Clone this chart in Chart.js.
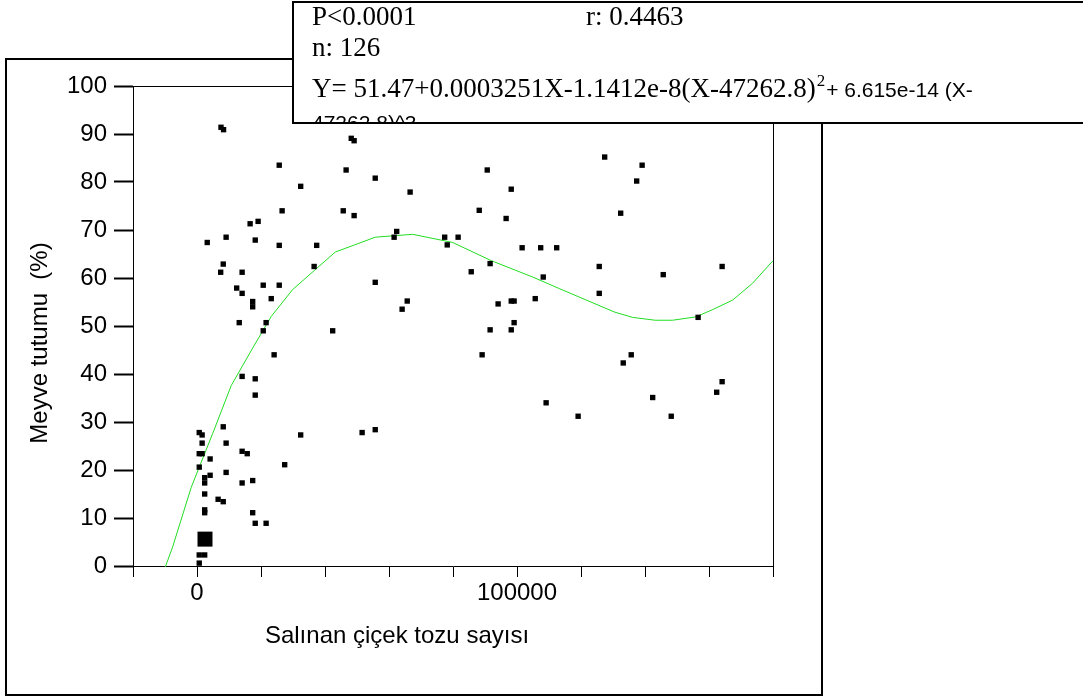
<!DOCTYPE html>
<html>
<head>
<meta charset="utf-8">
<script src="https://cdn.jsdelivr.net/npm/chart.js@4/dist/chart.umd.min.js"></script>
<style>
html,body{margin:0;padding:0;background:#fff;}
canvas{display:block;}
</style>
</head>
<body>
<canvas id="c" width="1083" height="699"></canvas>
<script>
// ---- data ----
const pollenCount = [
  7500, 8300, 25700, 46600, 32400, 26600, 45700, 19100, 16600, 9100,
  3200, 18200, 25700, 37400, 8200, 7400, 14100, 36600, 12400, 14100,
  20700, 25700, 17400, 17400, 23200, 13200, 21600, 42400, 20700, 24100,
  14100, 18200, 18200, 8200, 32400, 700, 1600, 1600, 9100, 700,
  1600, 14100, 15700, 4100, 27400, 700, 4100, 2400, 2400, 9100,
  14100, 17400, 2400, 6600, 8200, 2400, 2400, 17400, 18200, 21600,
  700, 2400, 700,
  48200, 49100, 55700, 66600, 90700, 98200, 49100, 88200, 96600, 62400,
  61600, 77400, 81600, 78200, 101600, 107400, 112400, 91600, 85700, 108200,
  55700, 65700, 64100, 98200, 99100, 94100, 105700, 99100, 91600, 98200,
  89100, 109100, 51600, 55700,
  127400, 139100, 137400, 132400, 125700, 145700, 164100, 125700, 156600,
  135700, 133200, 164100, 162400, 142400, 119100, 148200
];
const fruitSet = [
  91.4, 90.9, 83.5, 82.5, 79.1, 74.0, 74.0, 71.8, 71.3, 68.5,
  67.4, 67.9, 66.8, 66.8, 62.9, 61.2, 61.2, 62.4, 57.9, 56.8,
  58.5, 58.5, 55.1, 54.0, 55.7, 50.7, 50.7, 49.0, 49.0, 44.0,
  39.5, 39.0, 35.6, 29.0, 27.3, 27.8, 27.3, 25.6, 25.6, 23.4,
  23.4, 23.9, 23.4, 22.3, 21.1, 20.6, 18.9, 18.4, 17.3, 19.5,
  17.3, 17.8, 15.0, 13.9, 13.4, 11.7, 11.1, 11.1, 8.9, 8.9,
  2.3, 2.3, 0.6,
  89.1, 88.6, 80.8, 77.9, 82.5, 78.5, 73.0, 74.1, 72.4, 69.7,
  68.5, 68.5, 68.5, 66.9, 66.3, 66.3, 66.3, 63.0, 61.3, 60.2,
  59.1, 55.2, 53.5, 55.2, 55.2, 54.6, 55.7, 50.7, 49.2, 49.2,
  44.0, 34.0, 27.8, 28.4,
  85.2, 83.5, 80.2, 73.5, 62.4, 60.7, 62.4, 56.8, 51.8,
  44.0, 42.3, 38.4, 36.2, 35.1, 31.2, 31.2
];
// overlapping cluster drawn as one large marker
const clusterX = [2500];
const clusterY = [5.6];

// fitted curve
const fitX = [-9900, -7600, -1800, 4900, 10700, 17400, 23200, 29900, 43200, 55700,
  67400, 79900, 92000, 104900, 113200, 130500, 136100, 143200, 148600, 155900,
  161100, 167400, 173600, 180000];
const fitY = [-0.2, 4.0, 16.4, 27.6, 37.6, 45.4, 52.0, 57.6, 65.4, 68.5,
  69.1, 67.4, 63.6, 60.2, 57.8, 52.9, 51.8, 51.2, 51.2, 51.9,
  53.4, 55.4, 58.9, 63.6];

const xLabeledTicks = [0, 100000];
const xTitle = 'Salınan çiçek tozu sayısı';
const yTitle = 'Meyve tutumu  (%)';
const statP = 'P<0.0001';
const statR = 'r: 0.4463';
const statN = 'n: 126';
const eqMain = 'Y= 51.47+0.0003251X-1.1412e-8(X-47262.8)';
const eqSup = '2';
const eqTail = '+ 6.615e-14 (X-';
const eqCut = '47262.8)^3';

const SANS = '"Liberation Sans", Arial, sans-serif';
const SERIF = '"Liberation Serif", "Times New Roman", serif';

const scatterPts = pollenCount.map((x, i) => ({x, y: fruitSet[i]}));
const clusterPts = clusterX.map((x, i) => ({x, y: clusterY[i]}));
const fitPts = fitX.map((x, i) => ({x, y: fitY[i]}));

const decor = {
  id: 'decor',
  afterDraw(chart) {
    const ctx = chart.ctx, ca = chart.chartArea;
    ctx.save();
    ctx.strokeStyle = '#000';
    ctx.lineWidth = 1;
    ctx.beginPath();
    ctx.moveTo(ca.left, Math.round(ca.top) + 0.5);
    ctx.lineTo(Math.round(ca.right) + 0.5, Math.round(ca.top) + 0.5);
    ctx.lineTo(Math.round(ca.right) + 0.5, ca.bottom);
    ctx.stroke();
    // outer frame
    ctx.lineWidth = 2;
    ctx.strokeRect(6, 59, 816, 636);
    // axis titles
    ctx.fillStyle = '#000';
    ctx.font = '24px ' + SANS;
    ctx.textAlign = 'center';
    ctx.textBaseline = 'middle';
    ctx.fillText(xTitle, 397, 636);
    ctx.save();
    ctx.translate(40, 343);
    ctx.rotate(-Math.PI / 2);
    ctx.fillText(yTitle, 0, 0);
    ctx.restore();
    // statistics box
    ctx.fillStyle = '#fff';
    ctx.fillRect(293, 2, 800, 121);
    ctx.lineWidth = 2;
    ctx.strokeRect(293, 2, 800, 121);
    ctx.beginPath();
    ctx.rect(294, 3, 800, 119);
    ctx.clip();
    ctx.fillStyle = '#000';
    ctx.textAlign = 'left';
    ctx.textBaseline = 'alphabetic';
    ctx.font = '27px ' + SERIF;
    ctx.fillText(statP, 312, 25);
    ctx.fillText(statR, 586, 25);
    ctx.fillText(statN, 312, 56);
    ctx.fillText(eqMain, 312, 97);
    const w = ctx.measureText(eqMain).width;
    ctx.font = '17px ' + SERIF;
    ctx.fillText(eqSup, 312 + w + 1, 86);
    const ws = ctx.measureText(eqSup).width;
    ctx.font = '21px ' + SANS;
    ctx.fillText(eqTail, 312 + w + ws + 2, 97);
    ctx.fillText(eqCut, 312, 130);
    ctx.restore();
  }
};

new Chart(document.getElementById('c'), {
  type: 'scatter',
  data: {
    datasets: [
      {
        type: 'line',
        data: fitPts,
        borderColor: '#22dd22',
        borderWidth: 1,
        pointRadius: 0,
        fill: false,
        tension: 0,
        clip: false,
        order: 2
      },
      {
        data: scatterPts,
        pointStyle: 'rect',
        pointRadius: 3.8,
        pointBackgroundColor: '#000',
        pointBorderWidth: 0,
        order: 1
      },
      {
        data: clusterPts,
        pointStyle: 'rect',
        pointRadius: 10.6,
        pointBackgroundColor: '#000',
        pointBorderWidth: 0,
        order: 1
      }
    ]
  },
  options: {
    responsive: false,
    animation: false,
    devicePixelRatio: 1,
    layout: { padding: { left: 0, top: 86, right: 310, bottom: 0 } },
    plugins: { legend: { display: false }, tooltip: { enabled: false } },
    scales: {
      x: {
        type: 'linear',
        min: -20000,
        max: 180000,
        afterFit: s => { s.height = 133; },
        afterBuildTicks: s => {
          const t = [];
          for (let v = -20000; v <= 180000; v += 20000) t.push({value: v});
          s.ticks = t;
        },
        ticks: {
          callback: v => xLabeledTicks.includes(v) ? String(v) : '',
          font: { family: SANS, size: 24 },
          color: '#000',
          padding: 2,
          maxRotation: 0,
          autoSkip: false
        },
        grid: { drawOnChartArea: false, drawTicks: true, tickLength: 11, tickWidth: 1, tickColor: '#000' },
        border: { display: true, color: '#000', width: 1 }
      },
      y: {
        type: 'linear',
        min: 0,
        max: 100,
        afterFit: s => { s.width = 133; },
        ticks: {
          stepSize: 10,
          font: { family: SANS, size: 24 },
          color: '#000',
          padding: 7
        },
        grid: { drawOnChartArea: false, drawTicks: true, tickLength: 19, tickWidth: 2, tickColor: '#000' },
        border: { display: true, color: '#000', width: 1 }
      }
    }
  },
  plugins: [decor]
});
</script>
</body>
</html>
